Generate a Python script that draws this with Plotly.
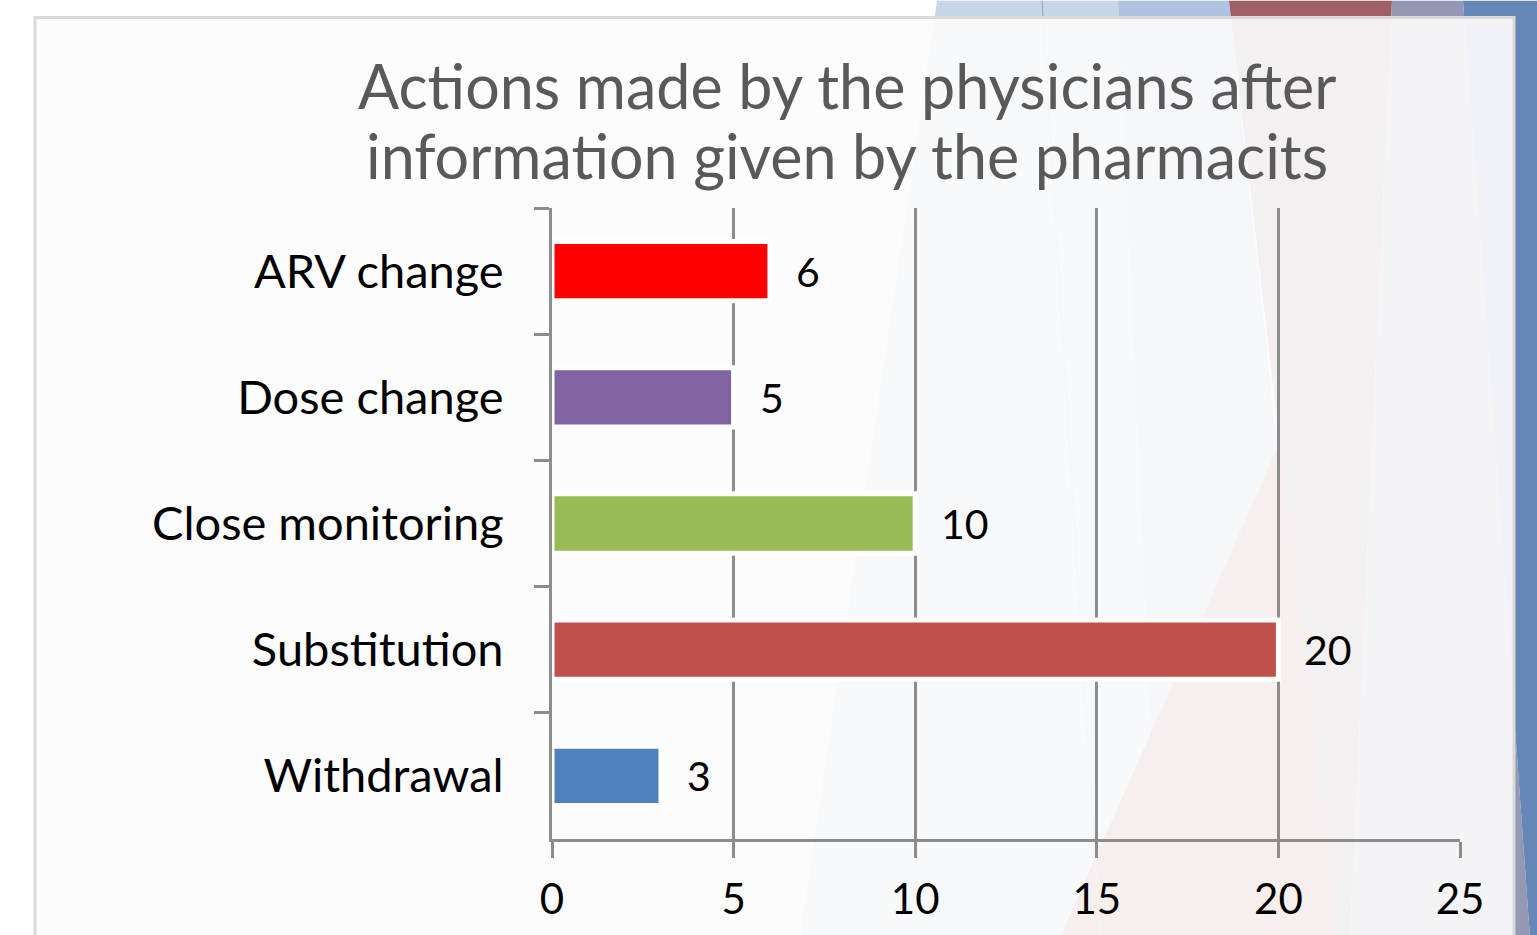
import plotly.graph_objects as go

# ---- data ----
categories = ["ARV change", "Dose change", "Close monitoring", "Substitution", "Withdrawal"]
values = [6, 5, 10, 20, 3]
bar_colors = ["#ff0000", "#8064a2", "#9bbb59", "#c0504d", "#4f81bd"]
x_tick_values = [0, 5, 10, 15, 20, 25]
title_lines = ["Actions made by the physicians after", "information given by the pharmacits"]

W, H = 1537, 935
L, R, T, B = 552, 77, 208, 94
PW, PH = W - L - R, H - T - B


def px(x):
    return (x - L) / PW


def py(y):
    return (H - B - y) / PH


def path(points):
    s = "M " + " L ".join(f"{px(x):.5f},{py(y):.5f}" for x, y in points) + " Z"
    return s


fig = go.Figure()
fig.add_trace(go.Bar(
    x=values,
    y=categories,
    orientation="h",
    width=0.47,
    marker=dict(color=bar_colors, line=dict(color="white", width=5)),
    hoverinfo="x+y",
))

for v, c in zip(values, categories):
    fig.add_annotation(
        x=v, y=c, xref="x", yref="y", text=str(v), showarrow=False,
        xanchor="left", yanchor="middle", xshift=24,
        font=dict(family="Lato", size=41, color="#000000"),
    )

# title, one annotation per line (to control line spacing)
for line, ymid in zip(title_lines, [89, 159]):
    fig.add_annotation(
        x=px(847), y=py(ymid), xref="paper", yref="paper", text=line,
        showarrow=False, xanchor="center", yanchor="middle", yshift=4,
        font=dict(family="Lato", size=61, color="#595959"),
    )

shapes = []
# slide decorations (behind the chart box)
deco = [
    ([(937, 0), (1118, 0), (1160, 940), (800, 940)], "#c6d5ea"),
    ([(1118, 0), (1229, 0), (1330, 940), (1160, 940)], "#adc3e0"),
    ([(1060, 940), (1290, 420), (1340, 940)], "#c0504d"),
    ([(1229, 0), (1392, 0), (1350, 940), (1336, 940)], "#9e5f66"),
    ([(1392, 0), (1463, 0), (1530, 940), (1350, 940)], "#9598b5"),
    ([(1463, 0), (1537, 0), (1537, 940), (1530, 940)], "#6786b8"),
]
for pts, col in deco:
    shapes.append(dict(type="path", xref="paper", yref="paper", path=path(pts),
                       fillcolor=col, line=dict(width=0), layer="below"))
# faint line
shapes.append(dict(type="line", xref="paper", yref="paper",
                   x0=px(1042), y0=py(0), x1=px(1100), y1=py(940),
                   line=dict(color="#8fa6c8", width=1), layer="below"))
# chart box
shapes.append(dict(type="rect", xref="paper", yref="paper",
                   x0=px(35), y0=py(945), x1=px(1514), y1=py(17),
                   fillcolor="rgba(252,252,252,0.92)",
                   line=dict(color="#d9d9d9", width=3), layer="below"))

axis_gray = "#8c8c8c"
fig.update_layout(
    width=W, height=H,
    margin=dict(l=L, r=R, t=T, b=B),
    paper_bgcolor="#ffffff",
    plot_bgcolor="rgba(0,0,0,0)",
    showlegend=False,
    shapes=shapes,
    xaxis=dict(
        range=[0, 25], tickvals=x_tick_values, showgrid=True,
        gridcolor=axis_gray, gridwidth=3, zeroline=False,
        showline=True, linecolor=axis_gray, linewidth=3,
        ticks="outside", ticklen=16, tickwidth=3, tickcolor=axis_gray,
        tickfont=dict(family="Lato", size=42, color="#000000"),
        ticklabelstandoff=6, fixedrange=True,
    ),
    yaxis=dict(
        categoryorder="array", categoryarray=categories, autorange="reversed",
        showgrid=False, zeroline=False,
        showline=True, linecolor=axis_gray, linewidth=3,
        ticks="outside", tickson="boundaries", ticklen=15, tickwidth=3,
        tickcolor=axis_gray,
        tickfont=dict(family="Lato", size=47, color="#000000"),
        ticklabelstandoff=36, fixedrange=True,
    ),
)

fig.write_html(
    "out.html",
    config={"displayModeBar": False},
    post_script="document.body.style.margin='0';document.body.style.overflow='hidden';",
)
